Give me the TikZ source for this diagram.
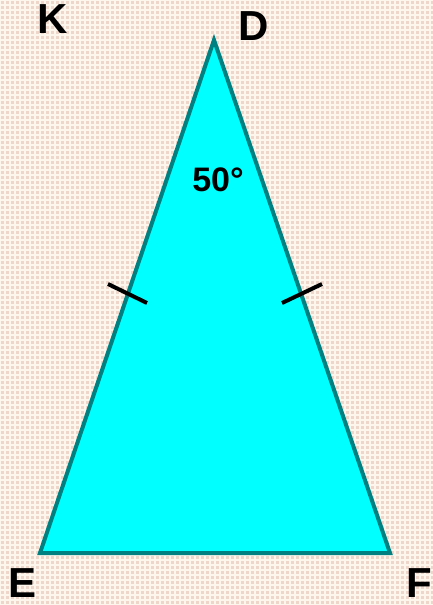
\documentclass[tikz,border=0pt]{standalone}
\usepackage{fontspec}
\setmainfont{Liberation Sans}
\definecolor{bgpink}{RGB}{238,214,202}
\definecolor{bgline}{RGB}{253,246,236}
\definecolor{tealedge}{RGB}{0,128,128}
\definecolor{cyanfill}{RGB}{0,255,255}
\tikzset{
  lbl/.style={inner sep=0pt, font=\fontsize{42}{42}\selectfont\bfseries},
  anglbl/.style={inner sep=0pt, font=\fontsize{34}{34}\selectfont\bfseries},
  tickmark/.style={black, line width=4pt},
}
\begin{document}
\begin{tikzpicture}[x=1pt,y=-1pt]
\useasboundingbox (0,0) rectangle (433,605);
\fill[bgpink] (0,0) rectangle (433,605);
\foreach \i in {0,5,...,435} {\draw[bgline, line width=1.3pt] (\i,0) -- (\i,605);}
\foreach \j in {0,5,...,605} {\draw[bgline, line width=1.3pt] (0,\j) -- (433,\j);}
\coordinate (D) at (214,40);
\coordinate (E) at (40,553);
\coordinate (F) at (390,553);
\filldraw[fill=cyanfill, draw=tealedge, line width=4pt, line join=miter] (D) -- (E) -- (F) -- cycle;
\coordinate (t1a) at (108,284);
\coordinate (t1b) at (147,303);
\coordinate (t2a) at (282,303);
\coordinate (t2b) at (322,284);
\draw[tickmark] (t1a) -- (t1b);
\draw[tickmark] (t2a) -- (t2b);
\node[lbl] (lK) at (53,19) {K};
\node[lbl] (lD) at (254,26) {D};
\node[lbl] (lE) at (23,583) {E};
\node[lbl] (lF) at (419,583) {F};
\node[anglbl] (ang) at (218,180) {50°};
\end{tikzpicture}
\end{document}
